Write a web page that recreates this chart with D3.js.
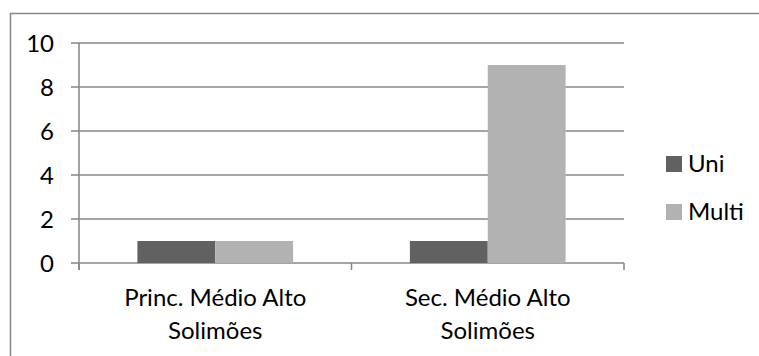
<!DOCTYPE html>
<html><head><meta charset="utf-8">
<script src="https://cdn.jsdelivr.net/npm/d3@7"></script>
<style>body{margin:0;background:#fff}svg{display:block}text{font-family:Lato,"Open Sans",sans-serif;fill:#000}</style>
</head><body>
<script>
const categories = [["Princ. Médio Alto","Solimões"],["Sec. Médio Alto","Solimões"]];
const seriesNames = ["Uni","Multi"];
const uniValues = [1, 1];
const multiValues = [1, 9];
const yTicks = [0, 2, 4, 6, 8, 10];
const colors = ["#616161", "#b2b2b2"];

const W = 759, H = 356, FS = 24;
const svg = d3.select("body").append("svg").attr("width", W).attr("height", H);
svg.append("rect").attr("x",10.5).attr("y",13.5).attr("width",W+20).attr("height",H+20)
  .attr("fill","none").attr("stroke","#888").attr("stroke-width",1.5);

const pLeft = 79, pRight = 624, pTop = 43, pBottom = 263;
const x0 = d3.scaleBand().domain(d3.range(categories.length)).range([pLeft, pRight]).paddingInner(0).paddingOuter(0);
const y = d3.scaleLinear().domain([0, 10]).range([pBottom, pTop]);
const bw = x0.bandwidth() / (2 + 1.5);
const x1 = d3.scaleBand().domain(seriesNames).range([bw*0.75, bw*0.75 + 2*bw]);

const g = svg.append("g");
g.selectAll("line.grid").data(yTicks).join("line")
  .attr("x1", pLeft - 8).attr("x2", pRight).attr("y1", d => y(d)).attr("y2", d => y(d))
  .attr("stroke", "#868686").attr("stroke-width", 1.5);
g.append("line").attr("x1", pLeft).attr("x2", pLeft).attr("y1", pTop).attr("y2", pBottom + 7)
  .attr("stroke", "#868686").attr("stroke-width", 1.5);
g.selectAll("line.xt").data(d3.range(categories.length + 1)).join("line")
  .attr("x1", d => pLeft + d * x0.bandwidth()).attr("x2", d => pLeft + d * x0.bandwidth())
  .attr("y1", pBottom).attr("y2", pBottom + 7).attr("stroke", "#868686").attr("stroke-width", 1.5);

const data = categories.map((c, i) => ({i, vals: [uniValues[i], multiValues[i]]}));
data.forEach(d => {
  g.selectAll(null).data(d.vals.map((v, k) => ({v, k}))).join("rect")
    .attr("x", e => x0(d.i) + x1(seriesNames[e.k]))
    .attr("width", x1.bandwidth())
    .attr("y", e => y(e.v)).attr("height", e => y(0) - y(e.v))
    .attr("fill", e => colors[e.k]);
});

g.selectAll("text.yl").data(yTicks).join("text")
  .attr("x", 54).attr("y", d => y(d)).attr("dy", "0.36em").attr("text-anchor", "end")
  .attr("font-size", FS).text(d => d);

categories.forEach((c, i) => {
  const t = g.append("text").attr("text-anchor", "middle").attr("font-size", FS);
  c.forEach((line, j) => t.append("tspan").attr("x", x0(i) + x0.bandwidth()/2).attr("y", 306 + j*33).text(line));
});

seriesNames.forEach((s, k) => {
  const ly = 164 + k * 48;
  svg.append("rect").attr("x", 666).attr("y", ly - 8).attr("width", 16).attr("height", 16).attr("fill", colors[k]);
  svg.append("text").attr("x", 688).attr("y", ly + 8).attr("font-size", FS).text(s);
});
</script>
</body></html>
